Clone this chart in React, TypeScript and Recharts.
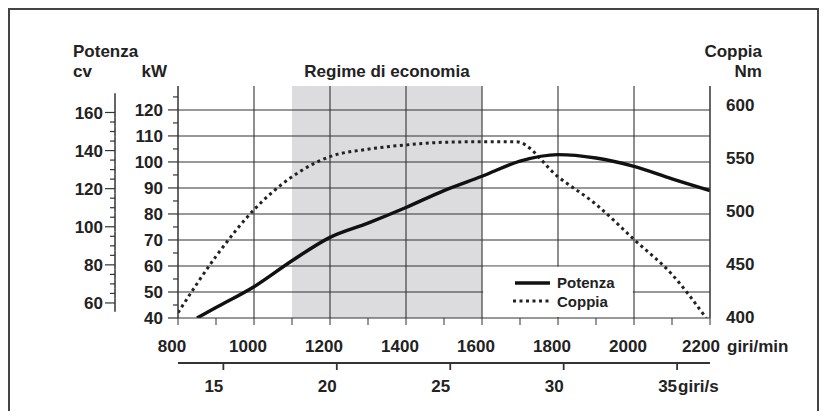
import React from "react";
import {
  ComposedChart,
  Line,
  XAxis,
  YAxis,
  CartesianGrid,
  ReferenceArea,
  Legend,
} from "recharts";

const FONT = '"Liberation Sans", Arial, sans-serif';
const INK = "#222";

// curves
const potenzaRpm = [850, 900, 1000, 1100, 1200, 1300, 1400, 1500, 1600, 1700, 1800, 1900, 2000, 2100, 2200];
const potenzaKw = [40, 44, 52, 62, 71, 76.5, 82.5, 89, 94.5, 100.3, 102.8, 101.5, 98.3, 93.5, 89];
const coppiaRpm = [800, 900, 1000, 1100, 1200, 1300, 1400, 1500, 1600, 1690, 1800, 1900, 2000, 2100, 2190];
const coppiaNm = [405, 458, 502, 533, 552, 559, 563, 565.5, 566, 566, 533, 507, 474, 441, 400];

// axes
const rpmTicks = [800, 900, 1000, 1100, 1200, 1300, 1400, 1500, 1600, 1700, 1800, 1900, 2000, 2100, 2200];
const rpmGrid = [1000, 1200, 1400, 1600, 1800, 2000];
const rpsTicks = [15, 20, 25, 30, 35];
const kwTicks = [40, 45, 50, 55, 60, 65, 70, 75, 80, 85, 90, 95, 100, 105, 110, 115, 120, 125];
const kwGrid = [50, 60, 70, 80, 90, 100, 110, 120];
const kwEdge = [40, 50, 60, 70, 80, 90, 100, 110, 120];
const cvTicks = [60, 65, 70, 75, 80, 85, 90, 95, 100, 105, 110, 115, 120, 125, 130, 135, 140, 145, 150, 155, 160];
const nmTicks = [400, 450, 500, 550, 600];

const rpmDomain = [800, 2200];
const rpsDomain = [13, 36.45];
const kwDomain = [40, 129.2];
const cvDomain = [52.1, 173.9];
const nmDomain = [400, 618.5];

const economyFrom = 1100;
const economyTo = 1600;

const potenzaData = potenzaRpm.map((rpm, i) => ({ rpm, kw: potenzaKw[i] }));
const coppiaData = coppiaRpm.map((rpm, i) => ({ rpm, nm: coppiaNm[i] }));
const rpsData = rpsTicks.map((rps) => ({ rps }));

const W = 807;
const H = 401;
const PLOT_H = 232;
const CV_PX = PLOT_H / (cvDomain[1] - cvDomain[0]);

const txt = { fontFamily: FONT, fontWeight: 700, fontSize: 17, fill: INK };

const RpmTick = (p: any) => {
  const v = p.payload.value;
  if (v % 200 !== 0) return <g />;
  return (
    <g>
      <text x={p.x - (v === 2200 ? 9 : 6)} y={p.y + 24.5} textAnchor="middle" {...txt}>
        {v}
      </text>
      {v === 2200 && (
        <text x={p.x + 17} y={p.y + 24.5} textAnchor="start" {...txt}>
          giri/min
        </text>
      )}
    </g>
  );
};

const RpsTick = (p: any) => {
  const v = p.payload.value;
  return (
    <g>
      <text x={p.x - 9.5} y={p.y + 20} textAnchor="middle" {...txt}>
        {v}
      </text>
      {v === 35 && (
        <text x={p.x + 1} y={p.y + 20} textAnchor="start" {...txt}>
          giri/s
        </text>
      )}
    </g>
  );
};

const KwTick = (p: any) => {
  const v = p.payload.value;
  const major = v % 10 === 0;
  return (
    <g>
      <line x1={p.x - (major ? 10 : 5)} x2={p.x} y1={p.y} y2={p.y} stroke="#333" strokeWidth={1.2} />
      {major && (
        <text x={p.x - 15} y={p.y} dy="0.36em" textAnchor="end" {...txt}>
          {v}
        </text>
      )}
    </g>
  );
};

const CvTick = (p: any) => {
  const v = p.payload.value;
  const major = v % 20 === 0;
  const half = 2.5 * CV_PX;
  const up = v === 160 ? 10.1 * CV_PX : half;
  const down = v === 60 ? 4.6 * CV_PX : half;
  return (
    <g>
      <line x1={p.x} x2={p.x} y1={p.y - up} y2={p.y + down} stroke="#333" strokeWidth={1.5} />
      <line x1={p.x - (major ? 10 : 5)} x2={p.x} y1={p.y} y2={p.y} stroke="#333" strokeWidth={1.2} />
      {major && (
        <text x={p.x - 12} y={p.y} dy="0.36em" textAnchor="end" {...txt}>
          {v}
        </text>
      )}
    </g>
  );
};

const NmTick = (p: any) => (
  <text x={p.x} y={p.y} dy="0.3em" textAnchor="start" {...txt}>
    {p.payload.value}
  </text>
);

const LegendBox = () => (
  <div style={{ fontFamily: FONT, fontWeight: 700, fontSize: 15, color: INK }}>
    <div style={{ display: "flex", alignItems: "center", height: 18.5 }}>
      <svg width={37} height={8}>
        <line x1={2} x2={37} y1={4} y2={4} stroke="#111" strokeWidth={3.5} />
      </svg>
      <span style={{ marginLeft: 7 }}>Potenza</span>
    </div>
    <div style={{ display: "flex", alignItems: "center", height: 18.5 }}>
      <svg width={37} height={8}>
        <line x1={0} x2={37} y1={4} y2={4} stroke="#222" strokeWidth={3} strokeDasharray="3 3.5" />
      </svg>
      <span style={{ marginLeft: 7 }}>Coppia</span>
    </div>
  </div>
);

export default function App() {
  // axis ids: recharts stacks same-side axes by id, first id nearest the plot
  return (
    <div
      style={{
        position: "relative",
        width: W,
        height: H,
        border: "2px solid #444",
        borderBottom: "none",
        background: "#fff",
      }}
    >
      <ComposedChart
        width={W}
        height={H}
        margin={{ top: 76, left: 45, right: 47, bottom: 18 }}
        style={{ fontFamily: FONT }}
      >
        <XAxis
          xAxisId="rpm"
          type="number"
          dataKey="rpm"
          domain={rpmDomain}
          allowDataOverflow
          ticks={rpmTicks}
          interval={0}
          tickSize={7}
          height={45}
          stroke="#333"
          tick={RpmTick}
        />
        <XAxis
          xAxisId="rps"
          type="number"
          dataKey="rps"
          domain={rpsDomain}
          allowDataOverflow
          ticks={rpsTicks}
          interval={0}
          tickSize={7}
          height={30}
          stroke="#333"
          strokeWidth={1.8}
          tick={RpsTick}
        />
        <YAxis
          yAxisId="kw"
          orientation="left"
          type="number"
          width={63}
          domain={kwDomain}
          allowDataOverflow
          ticks={kwTicks}
          interval={0}
          tickLine={false}
          tickSize={0}
          tickMargin={0}
          stroke="#333"
          strokeWidth={1.5}
          tick={KwTick}
        />
        <YAxis
          yAxisId="pcv"
          orientation="left"
          type="number"
          width={60}
          domain={cvDomain}
          allowDataOverflow
          ticks={cvTicks}
          interval={0}
          axisLine={false}
          tickLine={false}
          tickSize={0}
          tickMargin={0}
          tick={CvTick}
        />
        <YAxis
          yAxisId="kwR"
          orientation="right"
          type="number"
          width={8}
          domain={kwDomain}
          allowDataOverflow
          ticks={kwEdge}
          interval={0}
          tickSize={7}
          tick={false}
          stroke="#333"
          strokeWidth={1.5}
        />
        <YAxis
          yAxisId="nm"
          orientation="right"
          type="number"
          width={52}
          domain={nmDomain}
          allowDataOverflow
          ticks={nmTicks}
          interval={0}
          axisLine={false}
          tickLine={false}
          tick={NmTick}
        />

        <ReferenceArea
          xAxisId="rpm"
          yAxisId="kw"
          x1={economyFrom}
          x2={economyTo}
          fill="#dcdcdf"
          fillOpacity={1}
          stroke="none"
          zIndex={-150}
          label={{ value: "Regime di economia", position: "top", offset: 9, ...txt }}
        />
        <CartesianGrid
          xAxisId="rpm"
          yAxisId="kw"
          horizontalValues={kwGrid}
          verticalValues={rpmGrid}
          stroke="#333"
          strokeWidth={1.1}
        />
        <ReferenceArea
          xAxisId="rpm"
          yAxisId="kw"
          x1={1603}
          x2={1997}
          y1={40.4}
          y2={59.7}
          fill="#fff"
          fillOpacity={1}
          stroke="none"
        />

        {/* keeps the giri/s axis bound to a series; draws nothing */}
        <Line
          xAxisId="rps"
          yAxisId="kw"
          data={rpsData}
          dataKey="none"
          stroke="none"
          legendType="none"
          dot={false}
          activeDot={false}
          isAnimationActive={false}
        />
        <Line
          xAxisId="rpm"
          yAxisId="nm"
          data={coppiaData}
          dataKey="nm"
          name="Coppia"
          type="monotone"
          stroke="#222"
          strokeWidth={3}
          strokeDasharray="3 3.5"
          dot={false}
          activeDot={false}
          isAnimationActive={false}
        />
        <Line
          xAxisId="rpm"
          yAxisId="kw"
          data={potenzaData}
          dataKey="kw"
          name="Potenza"
          type="monotone"
          stroke="#111"
          strokeWidth={3.4}
          dot={false}
          activeDot={false}
          isAnimationActive={false}
        />

        <Legend
          layout="vertical"
          align="center"
          verticalAlign="middle"
          wrapperStyle={{ left: 503, top: 263.5, width: "auto", height: "auto" }}
          content={LegendBox}
        />

        <text x={63} y={46.7} textAnchor="start" {...txt}>Potenza</text>
        <text x={63} y={66.7} textAnchor="start" {...txt}>cv</text>
        <text x={131.5} y={66.7} textAnchor="start" {...txt}>kW</text>
        <text x={752} y={46.7} textAnchor="end" {...txt}>Coppia</text>
        <text x={752} y={66.7} textAnchor="end" {...txt}>Nm</text>
      </ComposedChart>
    </div>
  );
}
